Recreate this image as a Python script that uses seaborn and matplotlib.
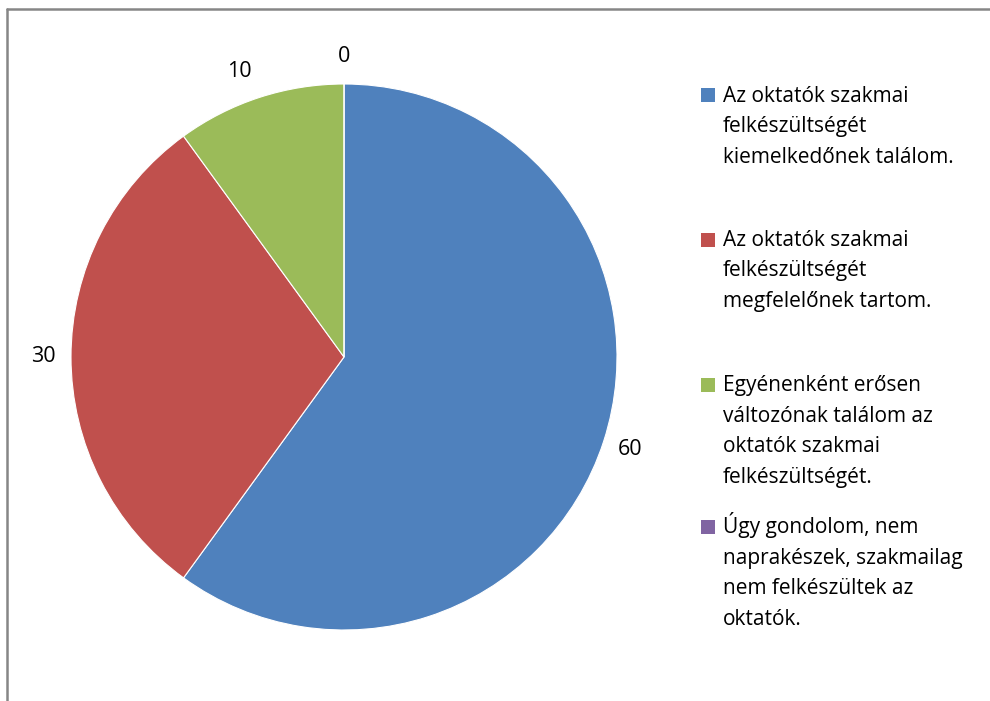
import seaborn as sns
import matplotlib.pyplot as plt
from matplotlib.patches import Rectangle
from matplotlib.lines import Line2D

# pie data
categories = [
    "Az oktatók szakmai\nfelkészültségét\nkiemelkedőnek találom.",
    "Az oktatók szakmai\nfelkészültségét\nmegfelelőnek tartom.",
    "Egyénenként erősen\nváltozónak találom az\noktatók szakmai\nfelkészültségét.",
    "Úgy gondolom, nem\nnaprakészek, szakmailag\nnem felkészültek az\noktatók.",
]
values = [60, 30, 10, 0]
colors = ["#4F81BD", "#C0504D", "#9BBB59", "#8064A2"]

sns.set_theme(style="white")
plt.rcParams['font.family'] = ['Open Sans', 'DejaVu Sans']

W, H = 990, 701
fig = plt.figure(figsize=(W / 100, H / 100), dpi=100)
ax = fig.add_axes([0, 0, 1, 1])

wedges, texts = ax.pie(values, colors=sns.color_palette(colors), startangle=90,
                       counterclock=False, center=(344, H - 357), radius=273,
                       labels=[str(v) for v in values], labeldistance=1.1,
                       textprops=dict(ha='center', va='center', fontsize=15.5,
                                      color='black'),
                       wedgeprops=dict(edgecolor='white', linewidth=0.8))
# Excel nudges the small-slice label a bit to the left
texts[2].set_x(texts[2].get_position()[0] - 12)

ax.set_xlim(0, W)
ax.set_ylim(0, H)
ax.set_aspect('equal')
ax.axis('off')

# legend drawn by hand to keep the Excel-like layout
first_base = [102, 247, 392, 534]   # baseline of first line (px from top)
last_base = [163, 307, 483, 625]    # baseline of last line
for lab, col, yf, yl in zip(categories, colors, first_base, last_base):
    fig.patches.append(Rectangle((701 / W, 1 - yf / H), 14 / W, 14 / H,
                                 transform=fig.transFigure, facecolor=col,
                                 edgecolor='none'))
    fig.text(723 / W, 1 - yl / H, lab, ha='left', va='baseline',
             fontsize=15, linespacing=1.6, color='black')

# chart frame (only left and top edges are visible in the crop)
fig.add_artist(Line2D([7 / W, 7 / W], [0, 1 - 9 / H], transform=fig.transFigure,
                      color='#868686', linewidth=1.8))
fig.add_artist(Line2D([7 / W, 1], [1 - 9 / H, 1 - 9 / H], transform=fig.transFigure,
                      color='#868686', linewidth=1.8))

fig.savefig('out.png', dpi=100, facecolor='white')
